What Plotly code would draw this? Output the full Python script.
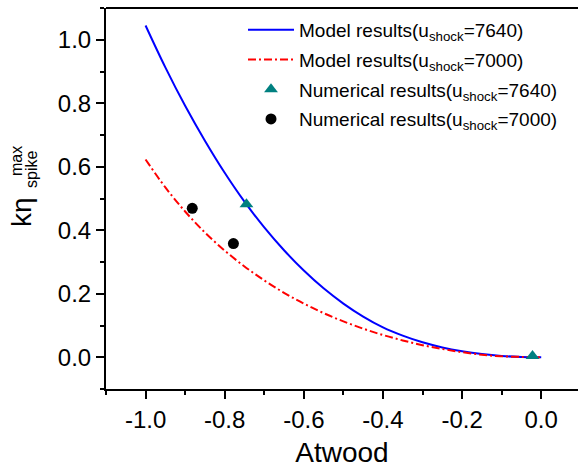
import plotly.graph_objects as go

# Model curves: spike amplitude vs Atwood number
atwood_model = [-1.0, -0.95, -0.9, -0.85, -0.8, -0.75, -0.7, -0.65, -0.6, -0.55,
                -0.5, -0.45, -0.4, -0.35, -0.3, -0.25, -0.2, -0.15, -0.1, -0.05, 0.0]
model_7640 = [1.045, 0.913, 0.792, 0.682, 0.581, 0.490, 0.409, 0.337, 0.273, 0.217,
              0.169, 0.128, 0.094, 0.068, 0.047, 0.031, 0.019, 0.010, 0.004, 0.001, 0.0]
model_7000 = [0.623, 0.535, 0.459, 0.393, 0.336, 0.286, 0.242, 0.203, 0.169, 0.139,
              0.113, 0.090, 0.070, 0.053, 0.038, 0.026, 0.016, 0.008, 0.003, 0.001, 0.0]

# Numerical simulation points
atwood_num_7640 = [-0.745, -0.022]
num_7640 = [0.482, 0.004]
atwood_num_7000 = [-0.882, -0.778]
num_7000 = [0.469, 0.358]

FONT = "Liberation Sans, Arial, sans-serif"

fig = go.Figure()
fig.add_trace(go.Scatter(
    x=atwood_model, y=model_7640, mode="lines", line_shape="spline",
    line=dict(color="#0000FF", width=2),
    name="Model results(u<sub>shock</sub>=7640)", legendgroup="a"))
fig.add_trace(go.Scatter(
    x=atwood_model, y=model_7000, mode="lines", line_shape="spline",
    line=dict(color="#FF0000", width=2, dash="8px,3px,2px,3px"),
    name="Model results(u<sub>shock</sub>=7000)", legendgroup="b"))
fig.add_trace(go.Scatter(
    x=atwood_num_7640, y=num_7640, mode="markers",
    marker=dict(symbol="triangle-up", size=12, color="#008080"),
    name="Numerical results(u<sub>shock</sub>=7640)", legendgroup="c"))
fig.add_trace(go.Scatter(
    x=atwood_num_7000, y=num_7000, mode="markers",
    marker=dict(symbol="circle", size=11, color="#000000"),
    name="Numerical results(u<sub>shock</sub>=7000)", legendgroup="d"))

L, R, T, B = 106, 0, 8, 79
W, H = 578, 468
pw, ph = W - L - R, H - T - B


def px(xp):
    return (xp - L) / pw


def py(yp):
    return (H - B - yp) / ph


axis_common = dict(
    showline=True, linecolor="black", linewidth=2,
    ticks="outside", ticklen=8, tickwidth=1.5, tickcolor="black",
    showgrid=False, zeroline=False,
    tickfont=dict(family=FONT, size=24, color="black"),
    minor=dict(ticks="outside", ticklen=4, tickwidth=1.5, tickcolor="black", dtick=0.1),
)

fig.update_layout(
    width=W, height=H,
    margin=dict(l=L, r=R, t=T, b=B),
    paper_bgcolor="white", plot_bgcolor="white",
    font=dict(family=FONT, color="black"),
    showlegend=True,
    legend=dict(
        x=px(243), y=py(11), xanchor="left", yanchor="top",
        bgcolor="rgba(0,0,0,0)", borderwidth=0,
        font=dict(family=FONT, size=19, color="black"),
        tracegroupgap=2, itemwidth=46,
    ),
    xaxis=dict(
        range=[-1.1, 0.093], tickmode="array",
        tickvals=[-1.0, -0.8, -0.6, -0.4, -0.2, 0.0],
        ticktext=["-1.0", "-0.8", "-0.6", "-0.4", "-0.2", "0.0"],
        title=dict(text="Atwood", font=dict(family=FONT, size=28, color="black"), standoff=12),
        **axis_common,
    ),
    yaxis=dict(
        range=[-0.1, 1.1], tickmode="array",
        tickvals=[0.0, 0.2, 0.4, 0.6, 0.8, 1.0],
        ticktext=["0.0", "0.2", "0.4", "0.6", "0.8", "1.0"],
        **axis_common,
    ),
)

# top frame line
fig.add_shape(type="line", xref="paper", yref="paper", x0=0, x1=1, y0=1, y1=1,
              line=dict(color="black", width=2))

# stacked y-axis title: kη with "max" over "spike"
fig.add_annotation(text="kη", xref="paper", yref="paper", x=px(22), y=py(212),
                   textangle=-90, showarrow=False, xanchor="center", yanchor="middle",
                   font=dict(family=FONT, size=28, color="black"))
fig.add_annotation(text="max", xref="paper", yref="paper", x=px(17), y=py(161),
                   textangle=-90, showarrow=False, xanchor="center", yanchor="middle",
                   font=dict(family=FONT, size=16, color="black"))
fig.add_annotation(text="spike", xref="paper", yref="paper", x=px(31), y=py(170),
                   textangle=-90, showarrow=False, xanchor="center", yanchor="middle",
                   font=dict(family=FONT, size=16, color="black"))

fig.write_html("out.html")
